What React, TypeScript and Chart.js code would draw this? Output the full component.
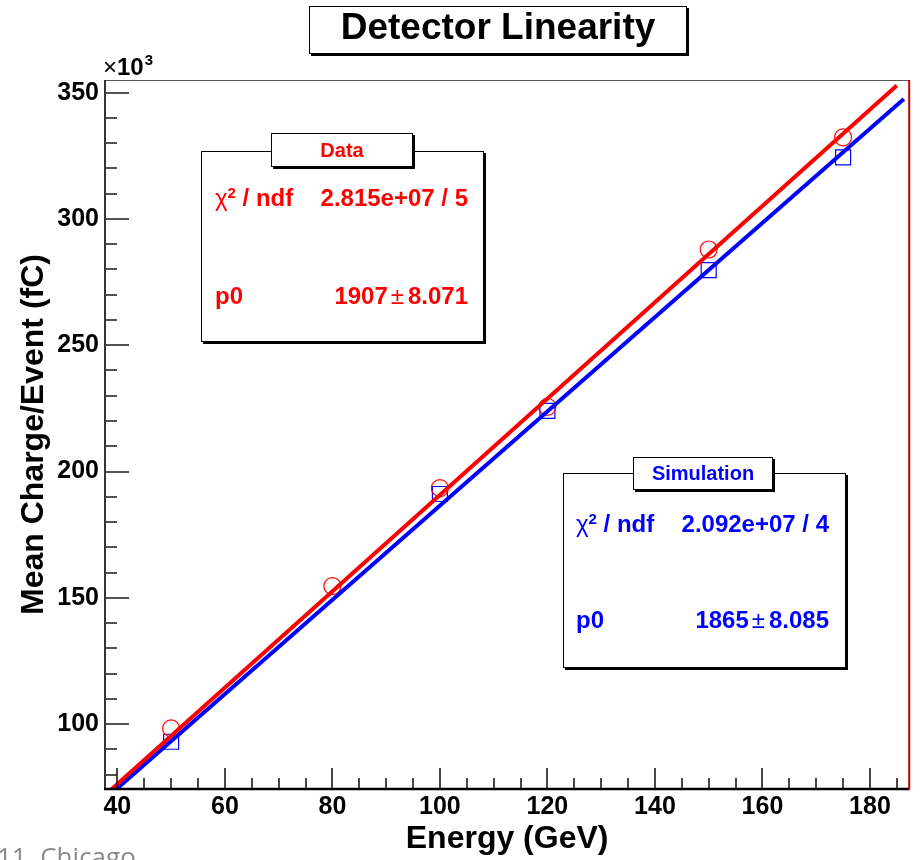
import React, { useEffect, useRef } from "react";
import { Chart, registerables } from "chart.js";

Chart.register(...registerables);

// ---- data (charge in units of 10^3 fC) ----
const DATA_ENERGY = [50, 80, 100, 120, 150, 175];
const DATA_CHARGE = [98.3, 154.6, 193.4, 225.6, 287.9, 332.3];
const SIM_ENERGY = [50, 100, 120, 150, 175];
const SIM_CHARGE = [93.0, 191.1, 224.0, 279.7, 324.4];

// fit lines (y = p0 * x), endpoints
const DATA_FIT_ENERGY = [38.5, 185.0];
const DATA_FIT_CHARGE = [73.4, 352.8];
const SIM_FIT_ENERGY = [39.8, 186.3];
const SIM_FIT_CHARGE = [74.2, 347.5];

// axes
const X_TICKS = [40, 60, 80, 100, 120, 140, 160, 180];
const Y_TICKS = [100, 150, 200, 250, 300, 350];
const X_MINOR_STEP = 5;
const Y_MINOR_STEP = 10;
const X_RANGE = [37.7, 187.3];
const Y_RANGE = [74.3, 355.0];

// texts
const TITLE = "Detector Linearity";
const X_TITLE = "Energy (GeV)";
const Y_TITLE = "Mean Charge/Event (fC)";
const DATA_STATS = { name: "Data", chi2: "2.815e+07 / 5", p0: "1907", p0err: "8.071" };
const SIM_STATS = { name: "Simulation", chi2: "2.092e+07 / 4", p0: "1865", p0err: "8.085" };

const FONT = "'Liberation Sans', Arial, Helvetica, sans-serif";

const framePlugin = {
  id: "rootFrame",
  afterDatasetsDraw(chart: any) {
    const { ctx, chartArea: a, scales } = chart;
    const xs = scales.x;
    const ys = scales.y;
    ctx.save();
    // ticks (inside the frame)
    ctx.strokeStyle = "#1a1a1a";
    ctx.lineWidth = 1.6;
    ctx.beginPath();
    for (let v = Math.ceil(xs.min / X_MINOR_STEP) * X_MINOR_STEP; v <= xs.max; v += X_MINOR_STEP) {
      const px = Math.round(xs.getPixelForValue(v));
      const major = X_TICKS.includes(v);
      ctx.moveTo(px, a.bottom);
      ctx.lineTo(px, a.bottom - (major ? 21 : 11));
    }
    for (let v = Math.ceil(ys.min / Y_MINOR_STEP) * Y_MINOR_STEP; v <= ys.max; v += Y_MINOR_STEP) {
      const py = Math.round(ys.getPixelForValue(v));
      const major = Y_TICKS.includes(v);
      ctx.moveTo(a.left, py);
      ctx.lineTo(a.left + (major ? 24 : 12), py);
    }
    ctx.stroke();
    // top frame line
    ctx.strokeStyle = "#555";
    ctx.lineWidth = 1;
    ctx.beginPath();
    ctx.moveTo(a.left, a.top + 0.5);
    ctx.lineTo(a.right, a.top + 0.5);
    ctx.stroke();
    // left axis
    ctx.strokeStyle = "#333";
    ctx.lineWidth = 2;
    ctx.beginPath();
    ctx.moveTo(a.left, a.top);
    ctx.lineTo(a.left, a.bottom);
    ctx.stroke();
    // bottom axis
    ctx.strokeStyle = "#000";
    ctx.lineWidth = 2.5;
    ctx.beginPath();
    ctx.moveTo(a.left - 1, a.bottom);
    ctx.lineTo(a.right, a.bottom);
    ctx.stroke();
    // right edge
    ctx.strokeStyle = "#c00000";
    ctx.lineWidth = 2;
    ctx.beginPath();
    ctx.moveTo(a.right, a.top);
    ctx.lineTo(a.right, a.bottom + 1);
    ctx.stroke();
    ctx.restore();
  },
};

function StatBox(props: {
  stats: { name: string; chi2: string; p0: string; p0err: string };
  color: string;
  frame: { left: number; top: number; width: number; height: number };
  head: { left: number; top: number; width: number; height: number };
  labelX: number;
  valueRight: number;
  row1Top: number;
  row2Top: number;
}) {
  const { stats, color, frame, head, labelX, valueRight, row1Top, row2Top } = props;
  const rowStyle: React.CSSProperties = {
    position: "absolute",
    height: 28,
    lineHeight: "28px",
    fontSize: 24,
    fontWeight: 700,
    color,
    whiteSpace: "pre",
  };
  return (
    <>
      <div
        style={{
          position: "absolute",
          left: frame.left,
          top: frame.top,
          width: frame.width,
          height: frame.height,
          boxSizing: "border-box",
          border: "1px solid #000",
          boxShadow: "2px 2px 0 #000",
          background: "transparent",
        }}
      />
      <div
        style={{
          position: "absolute",
          left: head.left,
          top: head.top,
          width: head.width,
          height: head.height,
          boxSizing: "border-box",
          border: "1px solid #000",
          boxShadow: "2px 2px 0 #000",
          background: "#fff",
          display: "flex",
          alignItems: "center",
          justifyContent: "center",
          color,
          fontWeight: 700,
          fontSize: 20,
        }}
      >
        {stats.name}
      </div>
      <div style={{ ...rowStyle, left: labelX, top: row1Top }}>
        <span style={{ fontWeight: 400 }}>χ</span>
        <span style={{ fontSize: 15, position: "relative", top: -8 }}>2</span>
        {" / ndf"}
      </div>
      <div style={{ ...rowStyle, right: 921 - valueRight, top: row1Top }}>{stats.chi2}</div>
      <div style={{ ...rowStyle, left: labelX, top: row2Top }}>p0</div>
      <div style={{ ...rowStyle, right: 921 - valueRight, top: row2Top }}>
        {stats.p0}
        <span style={{ fontWeight: 400, margin: "0 4px 0 3px" }}>±</span>
        {stats.p0err}
      </div>
    </>
  );
}

export default function App() {
  const ref = useRef<HTMLCanvasElement>(null);

  useEffect(() => {
    if (!ref.current) return;
    const chart = new Chart(ref.current, {
      type: "scatter",
      data: {
        datasets: [
          {
            type: "line",
            label: "Data fit",
            data: DATA_FIT_ENERGY.map((x, i) => ({ x, y: DATA_FIT_CHARGE[i] })),
            borderColor: "#ff0000",
            borderWidth: 4,
            pointRadius: 0,
            fill: false,
            clip: 0,
            order: 0,
          } as any,
          {
            type: "line",
            label: "Simulation fit",
            data: SIM_FIT_ENERGY.map((x, i) => ({ x, y: SIM_FIT_CHARGE[i] })),
            borderColor: "#0000ff",
            borderWidth: 4,
            pointRadius: 0,
            fill: false,
            clip: 0,
            order: 1,
          } as any,
          {
            label: "Data",
            data: DATA_ENERGY.map((x, i) => ({ x, y: DATA_CHARGE[i] })),
            pointStyle: "circle",
            pointRadius: 8.5,
            pointBorderColor: "#ff0000",
            pointBackgroundColor: "rgba(0,0,0,0)",
            pointBorderWidth: 1.2,
            borderColor: "#ff0000",
            backgroundColor: "rgba(0,0,0,0)",
            showLine: false,
            order: 2,
          },
          {
            label: "Simulation",
            data: SIM_ENERGY.map((x, i) => ({ x, y: SIM_CHARGE[i] })),
            pointStyle: "rect",
            pointRadius: 10.6,
            pointBorderColor: "#0000ff",
            pointBackgroundColor: "rgba(0,0,0,0)",
            pointBorderWidth: 1.2,
            borderColor: "#0000ff",
            backgroundColor: "rgba(0,0,0,0)",
            showLine: false,
            order: 2,
          },
        ],
      },
      options: {
        responsive: false,
        animation: false,
        devicePixelRatio: 1,
        layout: { padding: { top: 80, right: 9, left: 0, bottom: 0 } },
        plugins: {
          legend: { display: false },
          tooltip: { enabled: false },
          title: { display: false },
        },
        scales: {
          x: {
            type: "linear",
            position: "bottom",
            min: X_RANGE[0],
            max: X_RANGE[1],
            grid: { display: false, drawTicks: false },
            border: { display: false },
            afterBuildTicks: (s: any) => {
              s.ticks = X_TICKS.map((v) => ({ value: v }));
            },
            afterFit: (s: any) => {
              s.height = 71;
            },
            ticks: {
              padding: 3,
              color: "#000",
              autoSkip: false,
              maxRotation: 0,
              font: { family: FONT, size: 25, weight: "bold" },
              callback: (v: any) => String(v),
            },
            title: {
              display: true,
              text: X_TITLE,
              color: "#000",
              font: { family: FONT, size: 32, weight: "bold" },
              padding: { top: 0, bottom: 2 },
            },
          },
          y: {
            type: "linear",
            position: "left",
            min: Y_RANGE[0],
            max: Y_RANGE[1],
            grid: { display: false, drawTicks: false },
            border: { display: false },
            afterBuildTicks: (s: any) => {
              s.ticks = Y_TICKS.map((v) => ({ value: v }));
            },
            afterFit: (s: any) => {
              s.width = 105;
            },
            ticks: {
              padding: 6,
              color: "#000",
              autoSkip: false,
              font: { family: FONT, size: 25, weight: "bold" },
              callback: (v: any) => String(v),
            },
            title: {
              display: true,
              text: Y_TITLE,
              color: "#000",
              font: { family: FONT, size: 32, weight: "bold" },
              padding: { top: 15, bottom: 0 },
            },
          },
        },
      } as any,
      plugins: [framePlugin],
    });
    return () => chart.destroy();
  }, []);

  return (
    <div
      style={{
        position: "fixed",
        left: 0,
        top: 0,
        width: 921,
        height: 860,
        overflow: "hidden",
        background: "#fff",
        fontFamily: FONT,
      }}
    >
      <canvas
        ref={ref}
        width={921}
        height={860}
        style={{ position: "absolute", left: 0, top: 0, width: 921, height: 860 }}
      />
      {/* title box */}
      <div
        style={{
          position: "absolute",
          left: 309,
          top: 6,
          width: 378,
          height: 48,
          boxSizing: "border-box",
          border: "1px solid #000",
          boxShadow: "2px 2px 0 #000",
          background: "#fff",
          textAlign: "center",
          lineHeight: "46px",
          fontSize: 37,
          fontWeight: 700,
          color: "#000",
        }}
      >
        <span style={{ position: "relative", top: -3 }}>{TITLE}</span>
      </div>
      {/* axis multiplier */}
      <div
        style={{
          position: "absolute",
          left: 103,
          top: 55,
          height: 24,
          lineHeight: "24px",
          fontSize: 24,
          fontWeight: 700,
          color: "#000",
          whiteSpace: "pre",
        }}
      >
        <span style={{ fontWeight: 400 }}>×</span>10
        <span style={{ fontSize: 15, position: "relative", top: -10, marginLeft: 1 }}>3</span>
      </div>
      <StatBox
        stats={DATA_STATS}
        color="#ff0000"
        frame={{ left: 201, top: 151, width: 283, height: 191 }}
        head={{ left: 271, top: 133, width: 142, height: 34 }}
        labelX={215}
        valueRight={468}
        row1Top={184}
        row2Top={282}
      />
      <StatBox
        stats={SIM_STATS}
        color="#0000ff"
        frame={{ left: 563, top: 473, width: 283, height: 195 }}
        head={{ left: 633, top: 457, width: 140, height: 33 }}
        labelX={576}
        valueRight={829}
        row1Top={510}
        row2Top={606}
      />
      {/* slide footer fragment */}
      <div
        style={{
          position: "absolute",
          left: -3,
          top: 843,
          height: 26,
          lineHeight: "26px",
          fontSize: 26,
          fontFamily: "'Open Sans', 'Noto Sans', sans-serif",
          color: "#8a8a8a",
          whiteSpace: "pre",
        }}
      >
        {"11  Chicago"}
      </div>
    </div>
  );
}
